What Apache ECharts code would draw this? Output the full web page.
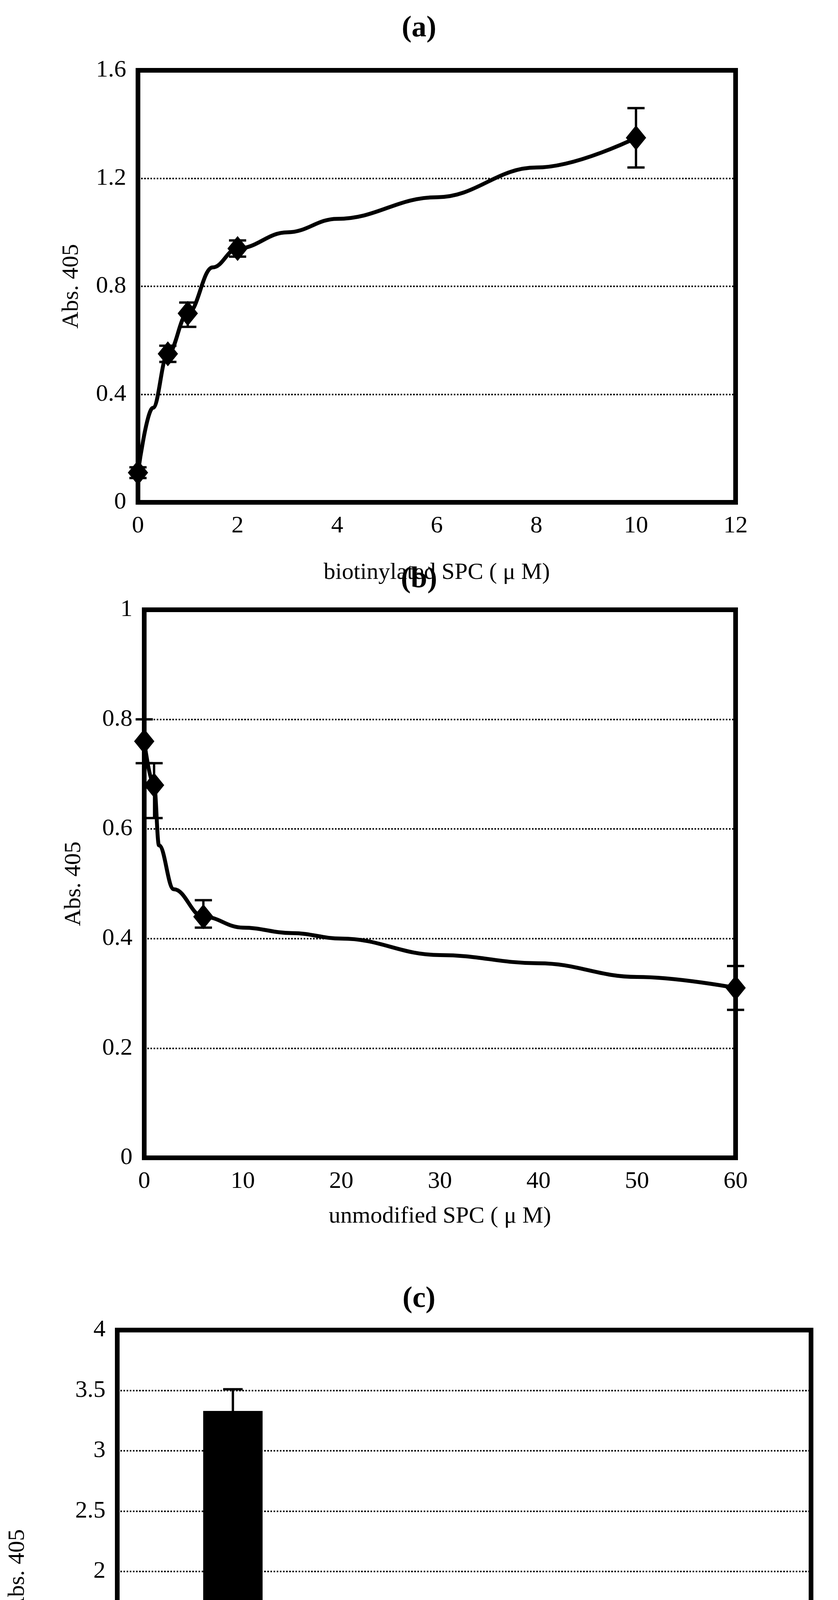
<!DOCTYPE html>
<html>
<head>
<meta charset="utf-8">
<script src="https://cdn.jsdelivr.net/npm/echarts@6/dist/echarts.min.js"></script>
<style>
html, body { margin: 0; padding: 0; background: #fff; }
#chart { width: 2144px; height: 4991px; }
</style>
</head>
<body>
<div id="chart"></div>
<script>
// panel (a): biotinylated SPC
var aX = [0, 0.6, 1, 2, 10];
var aY = [0.11, 0.55, 0.70, 0.94, 1.35];
var aLo = [0.09, 0.52, 0.65, 0.91, 1.24];
var aHi = [0.13, 0.58, 0.74, 0.97, 1.46];
var aCurveX = [0, 0.3, 0.6, 1, 1.5, 2, 3, 4, 6, 8, 10];
var aCurveY = [0.11, 0.35, 0.55, 0.70, 0.87, 0.94, 1.00, 1.05, 1.13, 1.24, 1.35];

// panel (b): unmodified SPC
var bX = [0, 1, 6, 60];
var bY = [0.76, 0.68, 0.44, 0.31];
var bLo = [0.72, 0.62, 0.42, 0.27];
var bHi = [0.80, 0.72, 0.47, 0.35];
var bCurveX = [0, 1, 1.5, 3, 6, 10, 15, 20, 30, 40, 50, 60];
var bCurveY = [0.76, 0.68, 0.57, 0.49, 0.44, 0.42, 0.41, 0.40, 0.37, 0.355, 0.33, 0.31];

// panel (c): bars
var cCats = ['immobilized SPC\n(10 \u03bc M)', 'immobilized S1P\n(10 \u03bc M)', 'non-\nimmobilized'];
var cVals = [3.33, 0.12, 0.12];
var cHi = [3.51, 0.12, 0.16];

var FONT = 'Liberation Serif';
var chart = echarts.init(document.getElementById('chart'));

function pairs(xs, ys) {
    var out = [];
    for (var i = 0; i < xs.length; i++) out.push([xs[i], ys[i]]);
    return out;
}

function errItem(params, api) {
    var x = api.value(0);
    var lo = api.coord([x, api.value(1)]);
    var hi = api.coord([x, api.value(2)]);
    var cap = 22;
    var st = { stroke: '#000', lineWidth: 6 };
    return {
        type: 'group',
        children: [
            { type: 'line', shape: { x1: lo[0], y1: lo[1], x2: hi[0], y2: hi[1] }, style: st },
            { type: 'line', shape: { x1: lo[0] - cap, y1: lo[1], x2: lo[0] + cap, y2: lo[1] }, style: st },
            { type: 'line', shape: { x1: hi[0] - cap, y1: hi[1], x2: hi[0] + cap, y2: hi[1] }, style: st }
        ]
    };
}

function valAxis(idx, min, max, interval, name, gap, showSplit) {
    return {
        gridIndex: idx, type: 'value', min: min, max: max, interval: interval,
        name: name, nameLocation: 'middle', nameGap: gap,
        nameTextStyle: { fontFamily: FONT, fontSize: 60, color: '#000' },
        axisLine: { show: false }, axisTick: { show: false },
        axisLabel: { fontFamily: FONT, fontSize: 62, color: '#000', margin: 30 },
        splitLine: { show: showSplit, lineStyle: { type: 'dotted', color: '#000', width: 4 } }
    };
}

var yLabelFmt = function(v) { return String(Math.round(v * 10) / 10); };

var errA = [], errB = [];
for (var i = 0; i < aX.length; i++) errA.push([aX[i], aLo[i], aHi[i]]);
for (var j = 0; j < bX.length; j++) errB.push([bX[j], bLo[j], bHi[j]]);
var errC = [];
for (var k = 0; k < cCats.length; k++) errC.push([k, cVals[k], cHi[k]]);

var gridStyle = { show: true, borderColor: '#000', borderWidth: 12, backgroundColor: 'transparent' };

var ya = valAxis(0, 0, 1.6, 0.4, 'Abs. 405', 140, true);
ya.axisLabel.formatter = yLabelFmt;
var yb = valAxis(1, 0, 1, 0.2, 'Abs. 405', 150, true);
yb.axisLabel.formatter = yLabelFmt;
var yc = valAxis(2, 0, 4, 0.5, 'Abs. 405', 225, true);

var diamond = { symbol: 'diamond', symbolSize: [52, 64], itemStyle: { color: '#000', opacity: 1 }, z: 4 };

chart.setOption({
    animation: false,
    backgroundColor: '#fff',
    title: [
        { text: '(a)', left: 'center', top: 30, textStyle: { fontFamily: FONT, fontSize: 76, fontWeight: 'bold', color: '#000' } },
        { text: '(b)', left: 'center', top: 1440, textStyle: { fontFamily: FONT, fontSize: 76, fontWeight: 'bold', color: '#000' } },
        { text: '(c)', left: 'center', top: 3283, textStyle: { fontFamily: FONT, fontSize: 76, fontWeight: 'bold', color: '#000' } }
    ],
    grid: [
        Object.assign({ left: 353, right: 262, top: 180, height: 1106 }, gridStyle),
        Object.assign({ left: 369, right: 262, top: 1561, height: 1403 }, gridStyle),
        Object.assign({ left: 300, right: 69, top: 3405, height: 1236 }, gridStyle)
    ],
    xAxis: [
        valAxis(0, 0, 12, 2, 'biotinylated SPC ( \u03bc M)', 150, false),
        valAxis(1, 0, 60, 10, 'unmodified SPC ( \u03bc M)', 120, false),
        {
            gridIndex: 2, type: 'category', data: cCats,
            axisLine: { show: false },
            axisTick: { show: true, inside: true, length: 18, lineStyle: { color: '#000', width: 5 } },
            axisLabel: { fontFamily: FONT, fontSize: 62, color: '#000', margin: 50, lineHeight: 125 },
            splitLine: { show: false }
        }
    ],
    yAxis: [ya, yb, yc],
    series: [
        { type: 'line', xAxisIndex: 0, yAxisIndex: 0, data: pairs(aCurveX, aCurveY), smooth: 0.4, smoothMonotone: 'x', showSymbol: false, lineStyle: { color: '#000', width: 10 } },
        { type: 'custom', xAxisIndex: 0, yAxisIndex: 0, data: errA, renderItem: errItem, z: 3 },
        Object.assign({ type: 'scatter', xAxisIndex: 0, yAxisIndex: 0, data: pairs(aX, aY) }, diamond),
        { type: 'line', xAxisIndex: 1, yAxisIndex: 1, data: pairs(bCurveX, bCurveY), smooth: 0.4, smoothMonotone: 'x', showSymbol: false, lineStyle: { color: '#000', width: 10 } },
        { type: 'custom', xAxisIndex: 1, yAxisIndex: 1, data: errB, renderItem: errItem, z: 3 },
        Object.assign({ type: 'scatter', xAxisIndex: 1, yAxisIndex: 1, data: pairs(bX, bY) }, diamond),
        { type: 'bar', xAxisIndex: 2, yAxisIndex: 2, data: cVals, barWidth: 152, itemStyle: { color: '#000' } },
        { type: 'custom', xAxisIndex: 2, yAxisIndex: 2, data: errC, z: 3, renderItem: function(params, api) {
            var lo = api.coord([api.value(0), api.value(1)]);
            var hi = api.coord([api.value(0), api.value(2)]);
            var st = { stroke: '#000', lineWidth: 6 };
            return { type: 'group', children: [
                { type: 'line', shape: { x1: lo[0], y1: lo[1], x2: hi[0], y2: hi[1] }, style: st },
                { type: 'line', shape: { x1: hi[0] - 25, y1: hi[1], x2: hi[0] + 25, y2: hi[1] }, style: st }
            ] };
        } }
    ]
});
</script>
</body>
</html>
